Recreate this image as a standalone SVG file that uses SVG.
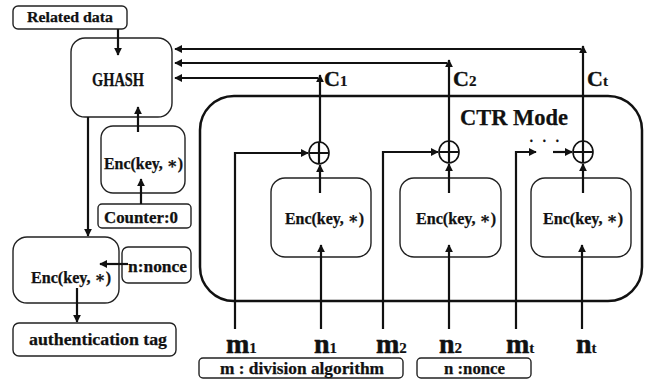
<svg xmlns="http://www.w3.org/2000/svg" width="651" height="382" viewBox="0 0 651 382">
<defs>
<marker id="ah" viewBox="0 0 10 10" refX="9" refY="5" markerWidth="8" markerHeight="8" markerUnits="userSpaceOnUse" orient="auto">
<path d="M0,0 L10,5 L0,10 Z" fill="#111"/>
</marker>
<style>
.box{fill:#fff;stroke:#222;stroke-width:1.4}
.bigbox{fill:none;stroke:#111;stroke-width:2.5}
.ln{fill:none;stroke:#111;stroke-width:2.2}
.ar{fill:none;stroke:#111;stroke-width:2.2;marker-end:url(#ah)}
.xor{fill:#fff;stroke:#111;stroke-width:1.6}
text{font-family:"Liberation Serif","DejaVu Serif",serif;font-weight:bold;fill:#111;stroke:#111;stroke-width:0.25}
.t15{font-size:15px}
.t16{font-size:16px}
.t17{font-size:17px}
.big{font-size:28px;stroke-width:0.5}
.sub{font-size:15px;stroke-width:0.2}
.cl{font-size:22px;stroke-width:0.4}
</style>
</defs>
<rect width="651" height="382" fill="#fff"/>

<g id="ctr-mode">
<rect class="bigbox" x="200" y="96" width="442" height="205" rx="34"/>
<text x="460" y="125" font-size="24" textLength="108" lengthAdjust="spacingAndGlyphs">CTR Mode</text>
</g>

<g id="related-data">
<rect class="box" x="13" y="6" width="114" height="23" rx="5"/>
<text class="t15" x="27" y="22" textLength="86" lengthAdjust="spacingAndGlyphs">Related data</text>
</g>

<g id="ghash">
<rect class="box" x="71" y="38" width="101" height="79" rx="14" stroke-width="1.8"/>
<text x="92" y="86" font-size="18" textLength="52" lengthAdjust="spacingAndGlyphs">GHASH</text>
</g>

<g id="enc-h">
<rect class="box" x="101" y="126" width="84" height="67" rx="12"/>
<text class="t16" x="104" y="169" textLength="79" lengthAdjust="spacingAndGlyphs">Enc(key, ∗)</text>
</g>

<g id="counter0">
<rect class="box" x="98" y="204" width="93" height="24" rx="4"/>
<text class="t17" x="104" y="223" textLength="74" lengthAdjust="spacingAndGlyphs">Counter:0</text>
</g>

<g id="enc-tag">
<rect class="box" x="13" y="237" width="106" height="66" rx="14"/>
<text class="t16" x="31" y="283" textLength="80" lengthAdjust="spacingAndGlyphs">Enc(key, ∗)</text>
</g>

<g id="nonce-left">
<rect class="box" x="122" y="247" width="69" height="36" rx="6"/>
<text class="t17" x="128" y="272" textLength="59" lengthAdjust="spacingAndGlyphs">n:nonce</text>
</g>

<g id="auth-tag">
<rect class="box" x="13" y="323" width="163" height="33" rx="6"/>
<text class="t17" x="29" y="345" textLength="138" lengthAdjust="spacingAndGlyphs">authentication tag</text>
</g>

<g id="enc1">
<rect class="box" x="271" y="178" width="100" height="79" rx="14"/>
<text class="t16" x="285" y="224" textLength="79" lengthAdjust="spacingAndGlyphs">Enc(key, ∗)</text>
</g>
<g id="enc2">
<rect class="box" x="400" y="178" width="101" height="79" rx="14"/>
<text class="t16" x="416" y="224" textLength="80" lengthAdjust="spacingAndGlyphs">Enc(key, ∗)</text>
</g>
<g id="enc3">
<rect class="box" x="531" y="178" width="100" height="79" rx="14"/>
<text class="t16" x="543" y="224" textLength="80" lengthAdjust="spacingAndGlyphs">Enc(key, ∗)</text>
</g>

<g id="xor1">
<ellipse class="xor" cx="319" cy="153" rx="10" ry="11"/>
<path class="ln" d="M309,153 H329 M319,142 V164" stroke-width="1.6"/>
</g>
<g id="xor2">
<ellipse class="xor" cx="449" cy="152" rx="10" ry="11"/>
<path class="ln" d="M439,152 H459 M449,141 V163" stroke-width="1.6"/>
</g>
<g id="xor3">
<ellipse class="xor" cx="583" cy="152" rx="10" ry="11"/>
<path class="ln" d="M573,152 H593 M583,141 V163" stroke-width="1.6"/>
</g>

<g id="connectors">
<path class="ar" d="M118,29 V55"/>
<path class="ar" d="M138,132 V107"/>
<path class="ar" d="M141,204 V179"/>
<path class="ar" d="M88,117 V236"/>
<path class="ar" d="M128,264 H100"/>
<path class="ar" d="M77,288 V322"/>

<path class="ar" d="M318,78 H175"/>
<path class="ar" d="M447,63 H175"/>
<path class="ar" d="M581,49 H175"/>
<path class="ar" d="M320,142 V75"/>
<path class="ar" d="M449,141 V60"/>
<path class="ar" d="M583,141 V46"/>

<path class="ar" d="M320,193 V165"/>
<path class="ar" d="M449,193 V164"/>
<path class="ar" d="M583,193 V164"/>

<path class="ar" d="M321,329 V245"/>
<path class="ar" d="M449,329 V245"/>
<path class="ar" d="M582,329 V245"/>

<path class="ar" d="M235,329 V153 H308"/>
<path class="ar" d="M383,329 V152 H438"/>
<path class="ar" d="M516,329 V152 H536"/>
<path class="ar" d="M553,152 H572"/>
</g>

<g id="dots">
<text font-size="14"><tspan x="529" y="146">·</tspan><tspan x="542" y="146">·</tspan><tspan x="555" y="146">·</tspan></text>
</g>

<g id="labels">
<text class="cl" x="324" y="86">C<tspan class="sub">1</tspan></text>
<text class="cl" x="453" y="86">C<tspan class="sub">2</tspan></text>
<text class="cl" x="587" y="86">C<tspan class="sub">t</tspan></text>

<text class="big" x="226" y="353">m<tspan class="sub">1</tspan></text>
<text class="big" x="314" y="353">n<tspan class="sub">1</tspan></text>
<text class="big" x="376" y="353">m<tspan class="sub">2</tspan></text>
<text class="big" x="439" y="353">n<tspan class="sub">2</tspan></text>
<text class="big" x="506" y="353">m<tspan class="sub">t</tspan></text>
<text class="big" x="576" y="353">n<tspan class="sub">t</tspan></text>
</g>

<g id="m-note">
<rect class="box" x="199" y="358" width="204" height="20" rx="4"/>
<text class="t17" x="220" y="374" textLength="164" lengthAdjust="spacingAndGlyphs">m : division algorithm</text>
</g>
<g id="n-note">
<rect class="box" x="417" y="358" width="114" height="20" rx="4"/>
<text class="t17" x="444" y="374" textLength="61" lengthAdjust="spacingAndGlyphs">n :nonce</text>
</g>
</svg>
